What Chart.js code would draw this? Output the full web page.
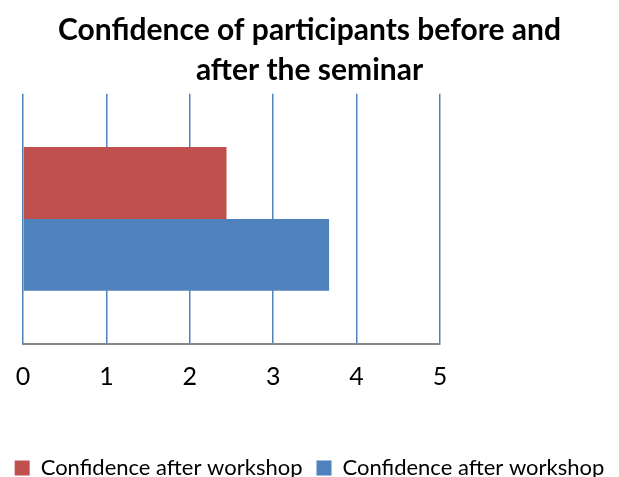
<!DOCTYPE html>
<html>
<head>
<meta charset="utf-8">
<script src="https://cdn.jsdelivr.net/npm/chart.js@4"></script>
<style>
  html, body { margin: 0; padding: 0; background: #fff; }
  #wrap { width: 619px; height: 477px; }
</style>
</head>
<body>
<div id="wrap"><canvas id="chart0"></canvas></div>
<script>
// data
const categories = [''];
const seriesNames = ['Confidence after workshop', 'Confidence after workshop'];
const redValues = [2.44];
const blueValues = [3.67];
const xTicks = [0, 1, 2, 3, 4, 5];

const titleLines = ['Confidence of participants before and', 'after the seminar'];

let ctx = document.getElementById('chart0').getContext('2d');
let myChart = new Chart(ctx, {
  type: 'bar',
  data: {
    labels: categories,
    datasets: [
      {
        label: seriesNames[0],
        data: redValues,
        backgroundColor: '#C0504D',
        borderWidth: 0
      },
      {
        label: seriesNames[1],
        data: blueValues,
        backgroundColor: '#4F81BD',
        borderWidth: 0
      }
    ]
  },
  options: {
    indexAxis: 'y',
    responsive: true,
    maintainAspectRatio: false,
    animation: false,
    datasets: {
      bar: { barPercentage: 1.0, categoryPercentage: 0.574 }
    },
    layout: { padding: { top: 0, bottom: -12, left: 0, right: 0 } },
    plugins: {
      tooltip: { enabled: false },
      title: {
        display: true,
        text: titleLines,
        color: '#000',
        font: { family: 'Lato', size: 30, weight: 'bold', lineHeight: 1.33 },
        padding: { top: 10, bottom: 4 }
      },
      legend: {
        position: 'bottom',
        labels: {
          color: '#000',
          font: { family: 'Lato', size: 22 },
          boxWidth: 15,
          boxHeight: 15,
          padding: 14
        }
      }
    },
    scales: {
      x: {
        min: 0,
        max: 5,
        afterBuildTicks: function(scale) {
          scale.ticks = xTicks.map(v => ({ value: v }));
        },
        afterFit: function(scale) {
          scale.height += 33;
          // tick padding should not push the plot to the right
          scale.paddingLeft = 0;
        },
        ticks: {
          color: '#000',
          font: { family: 'Lato', size: 25 },
          padding: 18
        },
        grid: {
          color: '#4F81BD',
          lineWidth: 1.5,
          drawTicks: false
        },
        border: { display: true, color: '#868686', width: 2 }
      },
      y: {
        ticks: { display: false },
        grid: { display: false },
        border: { display: false },
        afterFit: function(scale) { scale.width = 23; }
      },
      yRight: {
        type: 'linear',
        position: 'right',
        display: true,
        ticks: { display: false },
        grid: { display: false },
        border: { display: false },
        afterFit: function(scale) { scale.width = 179; }
      }
    }
  }
});
</script>
</body>
</html>
